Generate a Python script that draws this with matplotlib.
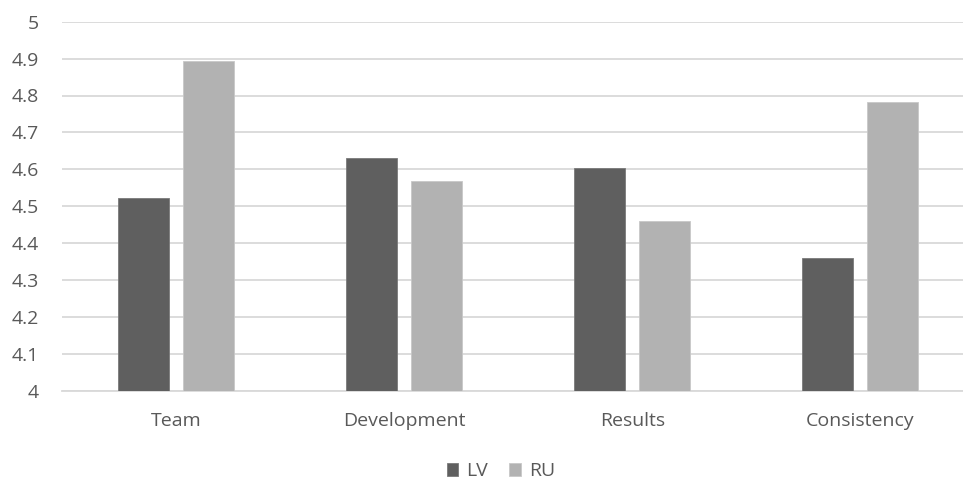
import numpy as np
import matplotlib.pyplot as plt

categories = ['Team', 'Development', 'Results', 'Consistency']
lv = [4.523, 4.630, 4.604, 4.359]
ru = [4.893, 4.568, 4.459, 4.783]
yticks = [4, 4.1, 4.2, 4.3, 4.4, 4.5, 4.6, 4.7, 4.8, 4.9, 5]
ytick_labels = ['4', '4.1', '4.2', '4.3', '4.4', '4.5', '4.6', '4.7', '4.8', '4.9', '5']

plt.rcParams['font.family'] = ['Open Sans', 'DejaVu Sans']
text_col = '#595959'

fig = plt.figure(figsize=(9.63, 4.83), dpi=100)
ax = fig.add_axes([62 / 963, 92.3 / 483, 901 / 963, 369 / 483])

x = np.arange(len(categories))
w = 0.2236
off = 0.1425
ax.bar(x - off, lv, w, bottom=0, color='#5f5f5f', edgecolor='#7a7a7a', linewidth=0.6, label='LV', zorder=3)
ax.bar(x + off, ru, w, bottom=0, color='#b2b2b2', edgecolor='#c8c8c8', linewidth=0.6, label='RU', zorder=3)

ax.set_ylim(4, 5)
ax.set_xlim(-0.5, -0.5 + 901 / 228.1)
ax.set_yticks(yticks)
ax.set_yticklabels(ytick_labels)
ax.set_xticks(x)
ax.set_xticklabels(categories)
ax.grid(axis='y', color='#d9d9d9', linewidth=1.3, zorder=0)
ax.tick_params(axis='both', length=0, labelsize=14, labelcolor=text_col)
ax.tick_params(axis='y', pad=16.5)
ax.tick_params(axis='x', pad=15)
for s in ['top', 'right', 'left']:
    ax.spines[s].set_visible(False)
ax.spines['bottom'].set_color('#d9d9d9')
ax.spines['bottom'].set_linewidth(1.3)

fig.legend(loc='center', bbox_to_anchor=(0.52, 0.024), ncol=2, frameon=False,
           fontsize=14, labelcolor=text_col, handlelength=0.6, handleheight=0.6,
           handletextpad=0.4, columnspacing=1.1, borderpad=0.1)

fig.savefig('out.png', dpi=100)
